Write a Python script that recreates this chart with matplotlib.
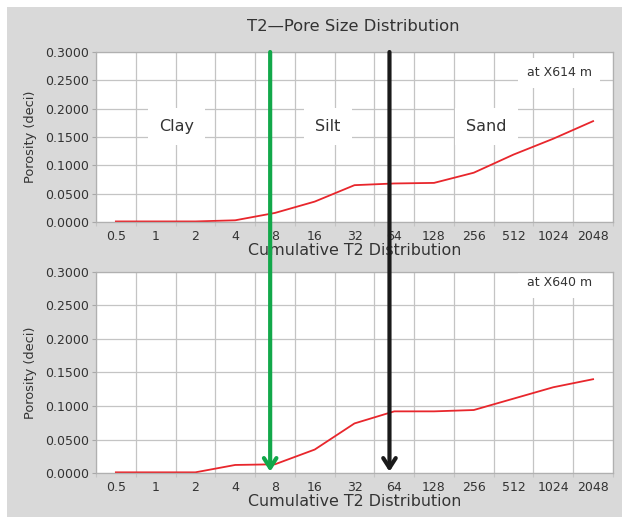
import numpy as np
import matplotlib
matplotlib.use("Agg")
import matplotlib.pyplot as plt
from matplotlib.patches import Rectangle, ConnectionPatch

# ---------------------------------------------------------------------------
# Data
# ---------------------------------------------------------------------------
t2_bins = ["0.5", "1", "2", "4", "8", "16", "32", "64", "128", "256", "512", "1024", "2048"]
por_x614 = [0.001, 0.001, 0.001, 0.003, 0.016, 0.036, 0.065, 0.068, 0.069, 0.087, 0.119, 0.147, 0.178]
por_x640 = [0.001, 0.001, 0.001, 0.012, 0.013, 0.035, 0.074, 0.092, 0.092, 0.094, 0.111, 0.128, 0.140]
y_ticks = [0.0, 0.05, 0.10, 0.15, 0.20, 0.25, 0.30]

# cutoffs (in category units) and zone labels
clay_silt_cut = 3.88
silt_sand_cut = 6.88
zones = [("Clay", 1.53), ("Silt", 5.33), ("Sand", 9.32)]
depth_labels = ["at X614 m", "at X640 m"]

GRID = "#c4c4c4"
TXT = "#333333"

fig = plt.figure(figsize=(6.22, 5.17), dpi=100, facecolor="white")
# grey panel behind everything
fig.add_artist(Rectangle((7 / 622, 0), 1 - 7 / 622, 1 - 7 / 517,
                         transform=fig.transFigure, facecolor="#d9d9d9",
                         edgecolor="none", zorder=-10))

ax_top = fig.add_axes([0.1543, 0.5706, 0.8312, 0.3288])
ax_bot = fig.add_axes([0.1543, 0.0851, 0.8312, 0.3888])

x = np.arange(len(t2_bins))
for ax, por, lab in [(ax_top, por_x614, depth_labels[0]), (ax_bot, por_x640, depth_labels[1])]:
    ax.set_facecolor("white")
    ax.plot(x, por, color="#e8262c", lw=1.3, zorder=3)
    ax.set_xlim(-0.5, len(t2_bins) - 0.5)
    ax.set_ylim(0, 0.3)
    ax.set_yticks(y_ticks)
    ax.set_yticklabels([f"{v:.4f}" for v in y_ticks])
    ax.set_xticks(np.arange(-0.5, len(t2_bins)))
    ax.set_xticklabels([])
    ax.set_xticks(x, minor=True)
    ax.set_xticklabels(t2_bins, minor=True)
    ax.tick_params(axis="x", which="major", length=3, color=GRID, direction="out")
    ax.tick_params(axis="x", which="minor", length=0, pad=6, labelsize=9, labelcolor=TXT)
    ax.tick_params(axis="y", length=3, color="#a8a8a8", labelsize=9, labelcolor=TXT, pad=2)
    ax.grid(True, which="major", color=GRID, lw=0.9)
    ax.set_axisbelow(True)
    for s in ax.spines.values():
        s.set_color("#b0b0b0")
        s.set_linewidth(0.9)
        s.set_zorder(5)
    ax.set_xlabel("Cumulative T2 Distribution", fontsize=11.4, color=TXT, labelpad=0)
    ax.set_ylabel("Porosity (deci)", fontsize=9.3, color=TXT, labelpad=6)
    ax.text(11.15, 0.263 if ax is ax_top else 0.284, lab, ha="center", va="center",
            fontsize=9, color=TXT, zorder=4, clip_on=True,
            bbox=dict(facecolor="white", edgecolor="none", pad=6))

for name, xpos in zones:
    ax_top.text(xpos, 0.168, name, ha="center", va="center", fontsize=11.5, color=TXT,
                zorder=4, bbox=dict(facecolor="white", edgecolor="none", pad=8))

fig.text(0.568, 0.948, "T2\u2014Pore Size Distribution", ha="center", va="center",
         fontsize=11.8, color=TXT)

# cutoff arrows running from the top plot into the bottom plot
for xc, col in [(clay_silt_cut, "#12a84a"), (silt_sand_cut, "#1a1a1a")]:
    con = ConnectionPatch(xyA=(xc, 0.3), coordsA=ax_top.transData,
                          xyB=(xc, 0.002), coordsB=ax_bot.transData,
                          arrowstyle="->,head_length=0.7,head_width=0.45",
                          color=col, lw=3, shrinkA=0, shrinkB=0, zorder=6)
    fig.add_artist(con)

fig.savefig("out.png", dpi=100, facecolor=fig.get_facecolor())
